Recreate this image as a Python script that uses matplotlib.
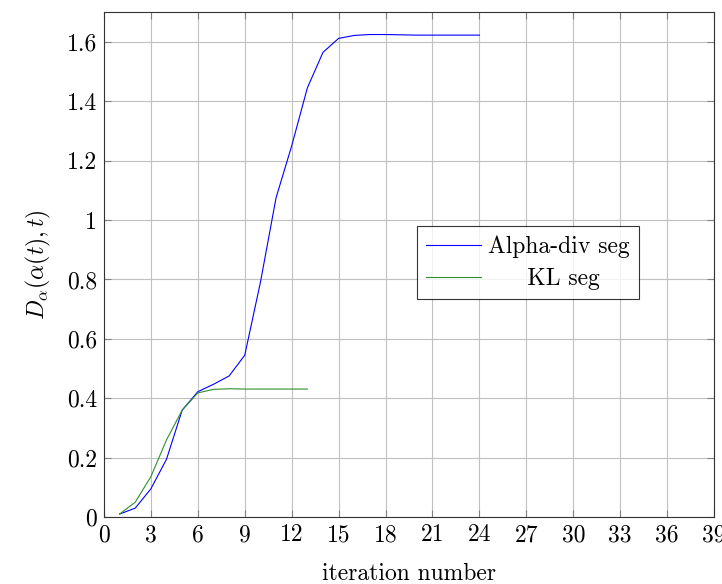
"""
Alpha-divergence vs KL segmentation convergence
"""

import matplotlib
matplotlib.use("Agg")
import matplotlib.pyplot as plt

iters_alpha = list(range(1, 25))
alpha_div = [0.01, 0.03, 0.095, 0.195, 0.36, 0.422, 0.447, 0.475, 0.545, 0.79,
             1.075, 1.25, 1.445, 1.565, 1.612, 1.622, 1.625, 1.625, 1.624, 1.623,
             1.623, 1.623, 1.623, 1.623]

iters_kl = list(range(1, 14))
kl = [0.01, 0.05, 0.136, 0.26, 0.36, 0.418, 0.43, 0.432, 0.431, 0.431,
      0.431, 0.431, 0.431]

xticks = list(range(0, 40, 3))
yticks = [0, 0.2, 0.4, 0.6, 0.8, 1.0, 1.2, 1.4, 1.6]
ytick_labels = ["0", "0.2", "0.4", "0.6", "0.8", "1", "1.2", "1.4", "1.6"]

plt.rcParams["font.family"] = "serif"
plt.rcParams["font.serif"] = ["cmr10", "DejaVu Serif"]
plt.rcParams["mathtext.fontset"] = "cm"
plt.rcParams["axes.unicode_minus"] = False

fs = 17

fig = plt.figure(figsize=(7.22, 5.84), dpi=100)
ax = fig.add_axes([0.144, 0.1147, 0.845, 0.8643])

ax.plot(iters_alpha, alpha_div, color="#0000ff", lw=0.8, label="Alpha-div seg")
ax.plot(iters_kl, kl, color="#2f8f2f", lw=0.8, label="     KL seg")

ax.set_xlim(0, 39)
ax.set_ylim(0, 1.7)
ax.set_xticks(xticks)
ax.set_xticklabels([str(t) for t in xticks])
ax.set_yticks(yticks)
ax.set_yticklabels(ytick_labels)
ax.tick_params(direction="in", top=True, right=True, labelsize=fs,
               length=5, width=0.8, color="#808080", pad=5)
ax.grid(True, color="#c0c0c0", lw=0.8)
ax.set_axisbelow(True)
for sp in ax.spines.values():
    sp.set_color("#333333")
    sp.set_linewidth(0.8)

ax.set_xlabel("iteration number", fontsize=fs, labelpad=12)
ax.set_ylabel(r"$D_\alpha(\alpha(t),t)$", fontsize=fs, labelpad=10)

leg = ax.legend(loc="upper left", bbox_to_anchor=(0.513, 0.576), fontsize=fs,
                frameon=True, fancybox=False, edgecolor="black",
                borderaxespad=0, handlelength=2.3, handletextpad=0.3,
                borderpad=0.4, labelspacing=0.4)
leg.get_frame().set_linewidth(0.8)

fig.savefig("out.png", dpi=100)
